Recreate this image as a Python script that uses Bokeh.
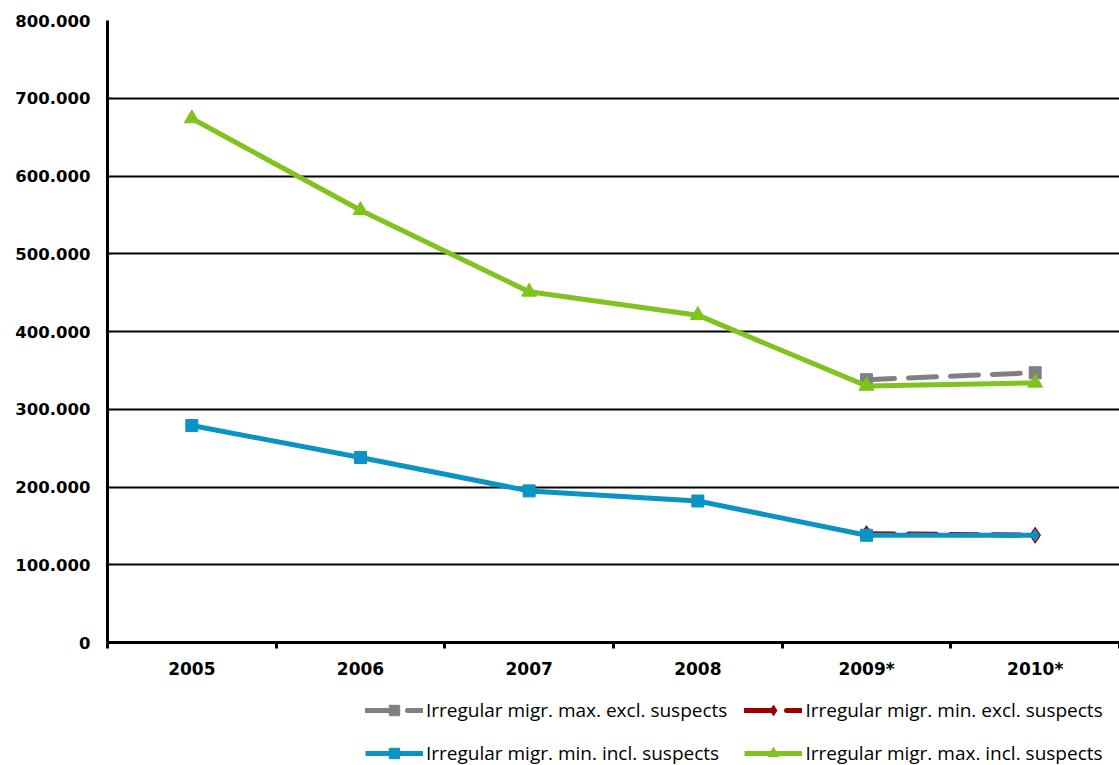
from bokeh.plotting import figure
from bokeh.layouts import column
from bokeh.models import FixedTicker, Legend, LegendItem, ColumnDataSource
from bokeh.embed import file_html
from bokeh.resources import INLINE

years = ["2005", "2006", "2007", "2008", "2009*", "2010*"]
max_incl = [674000, 556000, 451000, 421000, 330000, 334000]
min_incl = [279000, 238000, 195000, 182000, 138000, 138000]
max_excl = [338000, 347000]          # 2009*, 2010*
min_excl = [140000, 138000]          # 2009*, 2010*
y_ticks = [0, 100000, 200000, 300000, 400000, 500000, 600000, 700000, 800000]
y_labels = ["0", "100.000", "200.000", "300.000", "400.000", "500.000",
            "600.000", "700.000", "800.000"]
series_names = ["Irregular migr. max. excl. suspects",
                "Irregular migr. min. excl. suspects",
                "Irregular migr. min. incl. suspects",
                "Irregular migr. max. incl. suspects"]

xs = [i + 0.5 for i in range(len(years))]
xs_excl = xs[len(years) - len(max_excl):]

GRAY = "#808080"
RED = "#990000"
BLUE = "#0A93C4"
GREEN = "#80C21E"

p = figure(frame_width=1012, frame_height=622, x_range=(0, len(years)), y_range=(0, 800000),
           output_backend="svg", toolbar_location=None,
           min_border_left=107, min_border_right=0, min_border_top=20, min_border_bottom=40)
p.outline_line_color = None
p.background_fill_color = "white"
p.border_fill_color = "white"
p.xgrid.visible = False
p.ygrid.grid_line_color = "black"
p.ygrid.grid_line_width = 2

p.yaxis.ticker = FixedTicker(ticks=y_ticks)
p.yaxis.major_label_overrides = {t: l for t, l in zip(y_ticks, y_labels)}
p.yaxis.axis_line_width = 3
p.yaxis.major_tick_out = 0
p.yaxis.major_tick_in = 0
p.yaxis.minor_tick_out = 0
p.yaxis.minor_tick_in = 0
p.yaxis.major_label_standoff = 17
p.yaxis.major_label_text_font = "DejaVu Sans"
p.yaxis.major_label_text_font_style = "bold"
p.yaxis.major_label_text_font_size = "16.5px"
p.yaxis.major_label_text_color = "black"

p.xaxis.ticker = FixedTicker(ticks=xs, minor_ticks=list(range(len(years) + 1)))
p.xaxis.major_label_overrides = {x: y for x, y in zip(xs, years)}
p.xaxis.axis_line_width = 3
p.xaxis.major_tick_out = 0
p.xaxis.major_tick_in = 0
p.xaxis.minor_tick_out = 6
p.xaxis.minor_tick_in = 0
p.xaxis.minor_tick_line_width = 3
p.xaxis.major_label_standoff = 10
p.xaxis.major_label_text_font = "DejaVu Sans"
p.xaxis.major_label_text_font_style = "bold"
p.xaxis.major_label_text_font_size = "17px"
p.xaxis.major_label_text_color = "black"

src_gray = ColumnDataSource(dict(x=xs_excl, y=max_excl))
src_red = ColumnDataSource(dict(x=xs_excl, y=min_excl))
src_blue = ColumnDataSource(dict(x=xs, y=min_incl,
                                 m=["square"] * (len(years) - 1) + ["diamond"]))
src_green = ColumnDataSource(dict(x=xs, y=max_incl))

styles = [
    dict(color=GRAY, dash="28 14", marker="square", size=12),
    dict(color=RED, dash="28 14", marker="diamond", size=16),
    dict(color=BLUE, dash="solid", marker="square", size=12),
    dict(color=GREEN, dash="solid", marker="triangle", size=15),
]

for src, st in zip([src_gray, src_red, src_blue, src_green], styles):
    p.line("x", "y", source=src, line_color=st["color"], line_width=5,
           line_dash=st["dash"], line_cap="round" if st["dash"] != "solid" else "butt")
    mk = "m" if src is src_blue else st["marker"]
    p.scatter("x", "y", source=src, marker=mk, size=st["size"],
              fill_color=st["color"], line_color=st["color"])

# legend strip below the chart (its renderers only provide legend swatches)
leg = figure(width=1119, height=83, x_range=(0, 1), y_range=(0, 1),
             output_backend="svg", toolbar_location=None,
             min_border_left=0, min_border_right=0, min_border_top=0, min_border_bottom=0)
leg.axis.visible = False
leg.grid.visible = False
leg.outline_line_color = None
leg.border_fill_color = "white"

items = []
for name, st in zip(series_names, styles):
    lr = leg.line(x=[5, 6], y=[5, 6], line_color=st["color"], line_width=5,
                  line_dash=st["dash"],
                  line_cap="round" if st["dash"] != "solid" else "butt")
    sr = leg.scatter(x=[5], y=[5], marker=st["marker"], size=st["size"] - 2,
                     fill_color=st["color"], line_color=st["color"])
    items.append(LegendItem(label=name, renderers=[lr, sr]))

legend = Legend(items=items, location=(258, -1), orientation="horizontal", ncols=2,
                glyph_width=58, glyph_height=26, label_standoff=3, spacing=17,
                padding=0, margin=0, border_line_color=None, background_fill_alpha=0,
                label_text_font="Open Sans", label_text_font_size="19px",
                label_text_color="black")
leg.add_layout(legend)

layout = column(p, leg, spacing=0)
open("out.html", "w").write(file_html(layout, INLINE))
